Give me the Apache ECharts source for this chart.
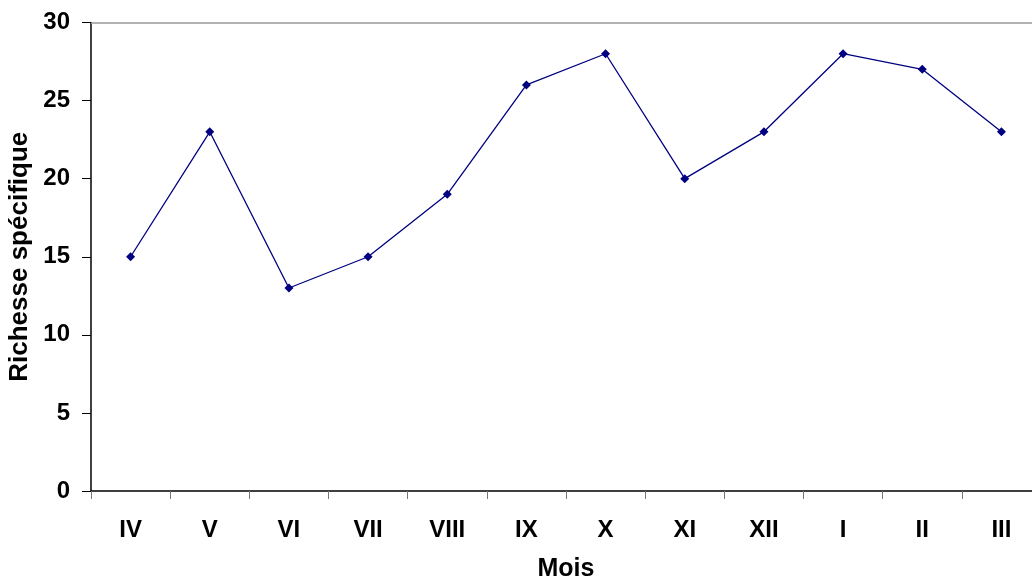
<!DOCTYPE html>
<html><head><meta charset="utf-8">
<script src="https://cdn.jsdelivr.net/npm/echarts@6/dist/echarts.min.js"></script>
<style>html,body{margin:0;padding:0;background:#fff}#c{width:1032px;height:581px}</style>
</head><body><div id="c"></div>
<script>
const months = ['IV','V','VI','VII','VIII','IX','X','XI','XII','I','II','III'];
const richesse = [15,23,13,15,19,26,28,20,23,28,27,23];
const yTicks = {min:0, max:30, interval:5};
const font = '"Liberation Sans", Arial, sans-serif';
const chart = echarts.init(document.getElementById('c'), null, {renderer:'canvas'});
chart.setOption({
  animation:false,
  backgroundColor:'#fff',
  grid:{left:91, top:22.5, width:950, height:468.5, containLabel:false, outerBoundsMode:'none'},
  xAxis:{
    type:'category', data:months, boundaryGap:true,
    name:'Mois', nameLocation:'middle', nameGap:66,
    nameTextStyle:{fontFamily:font, fontWeight:'bold', fontSize:25, color:'#000'},
    axisLine:{lineStyle:{color:'#000', width:1.5}},
    axisTick:{show:true, length:8, alignWithLabel:false, lineStyle:{color:'#777'}},
    axisLabel:{fontFamily:font, fontWeight:'bold', fontSize:24, color:'#000', margin:27}
  },
  yAxis:{
    type:'value', min:yTicks.min, max:yTicks.max, interval:yTicks.interval,
    name:'Richesse spécifique', nameLocation:'middle', nameGap:54,
    nameTextStyle:{fontFamily:font, fontWeight:'bold', fontSize:26, color:'#000'},
    axisLine:{show:true, lineStyle:{color:'#000', width:1.5}},
    axisTick:{show:true, length:9, lineStyle:{color:'#000'}},
    splitLine:{show:false},
    axisLabel:{fontFamily:font, fontWeight:'bold', fontSize:24, color:'#000', margin:21}
  },
  series:[{
    type:'line', data:richesse,
    symbol:'diamond', symbolSize:9,
    itemStyle:{color:'#000080'},
    lineStyle:{color:'#000080', width:1.3},
    markLine:{silent:true, symbol:'none', label:{show:false},
      lineStyle:{color:'#999', type:'solid', width:1.5},
      data:[{yAxis:yTicks.max}]}
  }]
});
</script></body></html>
